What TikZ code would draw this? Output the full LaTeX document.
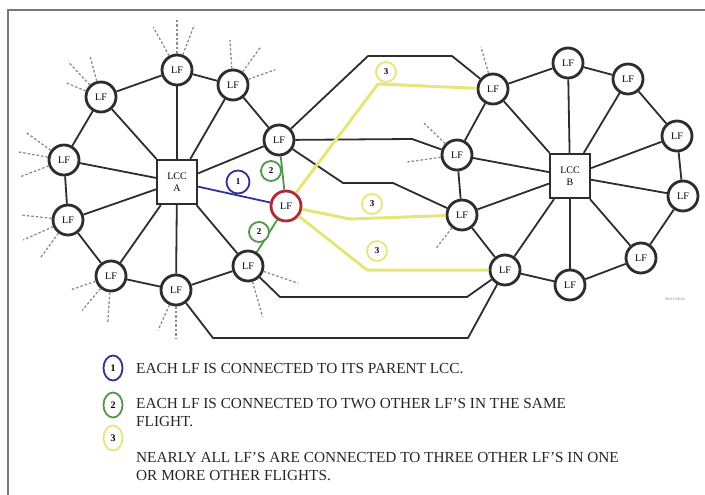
\documentclass[tikz,border=0pt]{standalone}
\usepackage{fontspec}
\setmainfont{Liberation Serif}
\usetikzlibrary{shapes.geometric}
\definecolor{lineC}{RGB}{45,45,45}
\definecolor{yel}{RGB}{230,230,120}
\definecolor{grn}{RGB}{80,150,75}
\definecolor{blu}{RGB}{50,50,150}
\definecolor{redc}{RGB}{175,40,55}
\definecolor{framec}{RGB}{120,120,120}
\begin{document}
\begin{tikzpicture}[x=1pt,y=-1pt,
  lf/.style={circle,draw=lineC,line width=2.8pt,fill=white,minimum size=30pt,inner sep=0pt,font=\fontsize{10}{10}\selectfont},
  lcc/.style={rectangle,draw=lineC,line width=2.2pt,fill=white,minimum width=40pt,minimum height=44pt,inner sep=0pt,align=center,font=\fontsize{10}{12}\selectfont},
  conn/.style={draw=lineC,line width=1.8pt,line join=round},
  yconn/.style={draw=yel,line width=3pt,line join=round},
  gconn/.style={draw=grn,line width=1.8pt},
  bconn/.style={draw=blu,line width=1.8pt},
  stub/.style={draw=black!45,line width=1.3pt,dash pattern=on 2.5pt off 2pt},
  tag/.style={circle,draw=#1,line width=1.8pt,fill=white,minimum size=20pt,inner sep=0pt,font=\fontsize{9}{9}\bfseries\selectfont},
  legtag/.style={ellipse,draw=#1,line width=1.8pt,fill=white,minimum width=19pt,minimum height=25pt,inner sep=0pt,font=\fontsize{10}{10}\bfseries\selectfont},
  legtext/.style={anchor=base west,inner sep=0pt,font=\fontsize{15.3}{15.3}\selectfont,text=black!85}
]
\useasboundingbox (0,0) rectangle (705,495);
\draw[draw=framec,line width=2pt] (8,495) -- (8,10) -- (705,10);

% nodes
\node[lcc] (lccA) at (177,182) {LCC\\A};
\node[lcc] (lccB) at (570,176) {LCC\\B};
\foreach \n/\x/\y in {a1/177/70, a2/233/85, a3/279/140, a5/248/266, a6/176/290, a7/111/276, a8/68/220, a9/64/160, a10/101/97,
  b1/493/89, b2/568/63, b3/628/79, b4/677/136, b5/683/196, b6/641/258, b7/570/285, b8/505/270, b9/462/215, b10/457/155}
  \node[lf] (\n) at (\x,\y) {LF};
\node[lf,draw=redc] (a4) at (286,206) {LF};

% spokes
\foreach \n in {a1,a2,a3,a5,a6,a7,a8,a9,a10} \draw[conn] (lccA) -- (\n);
\draw[bconn] (lccA) -- (a4);
\foreach \n in {b1,b2,b3,b4,b5,b6,b7,b8,b9,b10} \draw[conn] (lccB) -- (\n);

% rings
\foreach \u/\v in {a10/a1, a1/a2, a2/a3, a5/a6, a6/a7, a7/a8, a8/a9, a9/a10,
  b1/b2, b2/b3, b3/b4, b4/b5, b5/b6, b6/b7, b7/b8, b8/b9, b9/b10, b10/b1}
  \draw[conn] (\u) -- (\v);
\draw[gconn] (a3) -- (a4);
\draw[gconn] (a4) -- (a5);

% links between flights
\coordinate (p1) at (368,56); \coordinate (p2) at (452,56);
\coordinate (p3) at (412,139);
\coordinate (p4) at (343,183); \coordinate (p5) at (393,183);
\coordinate (p6) at (280,297); \coordinate (p7) at (467,297);
\coordinate (p8) at (213,338); \coordinate (p9) at (468,338);
\draw[conn] (a3) -- (p1) -- (p2) -- (b1);
\draw[conn] (a3) -- (p3) -- (b10);
\draw[conn] (a3) -- (p4) -- (p5) -- (b9);
\draw[conn] (a5) -- (p6) -- (p7) -- (b8);
\draw[conn] (a6) -- (p8) -- (p9) -- (b8);

\coordinate (q1) at (378,84);
\coordinate (q2) at (350,219);
\coordinate (q3) at (367,270);
\draw[yconn] (a4) -- (q1) -- (b1);
\draw[yconn] (a4) -- (q2) -- (b9);
\draw[yconn] (a4) -- (q3) -- (b8);

% stubs
\foreach \n/\a/\l in {a1/119/49, a1/90/50, a1/69/48, a10/133/48, a10/105/43, a10/158/37,
  a2/94/45, a2/54/46, a2/20/45, a9/144/46, a9/170/47, a9/201/47,
  a8/174/46, a8/204/49, a8/234/47, a7/199/43, a7/230/45, a7/266/47,
  a6/246/44, a6/270/48, a5/-19/53, a5/-74/53, b1/106/44, b10/136/47, b10/188/50, b9/232/42}
  \draw[stub] (\n) -- ++(\a:\l pt);

% tags
\node[tag=blu,minimum size=23pt] (t1) at (238,182) {1};
\node[tag=grn] (t2a) at (271,171) {2};
\node[tag=grn] (t2b) at (259,232) {2};
\node[tag=yel] (t3a) at (386,72) {3};
\node[tag=yel] (t3b) at (372,204) {3};
\node[tag=yel] (t3c) at (377,251) {3};

\node[font=\fontsize{4}{4}\selectfont,text=black!50] (id) at (675,299) {96-01-08-02};

% legend
\node[legtag=blu] (l1) at (113,368) {1};
\node[legtag=grn] (l2) at (113,405) {2};
\node[legtag=yel] (l3) at (113,438) {3};
\node[legtext] (x1) at (136,373) {EACH LF IS CONNECTED TO ITS PARENT LCC.};
\node[legtext] (x2) at (136,408) {EACH LF IS CONNECTED TO TWO OTHER LF'S IN THE SAME};
\node[legtext] (x3) at (136,426) {FLIGHT.};
\node[legtext] (x4) at (136,462) {NEARLY ALL LF'S ARE CONNECTED TO THREE OTHER LF'S IN ONE};
\node[legtext] (x5) at (136,480) {OR MORE OTHER FLIGHTS.};
\end{tikzpicture}
\end{document}
